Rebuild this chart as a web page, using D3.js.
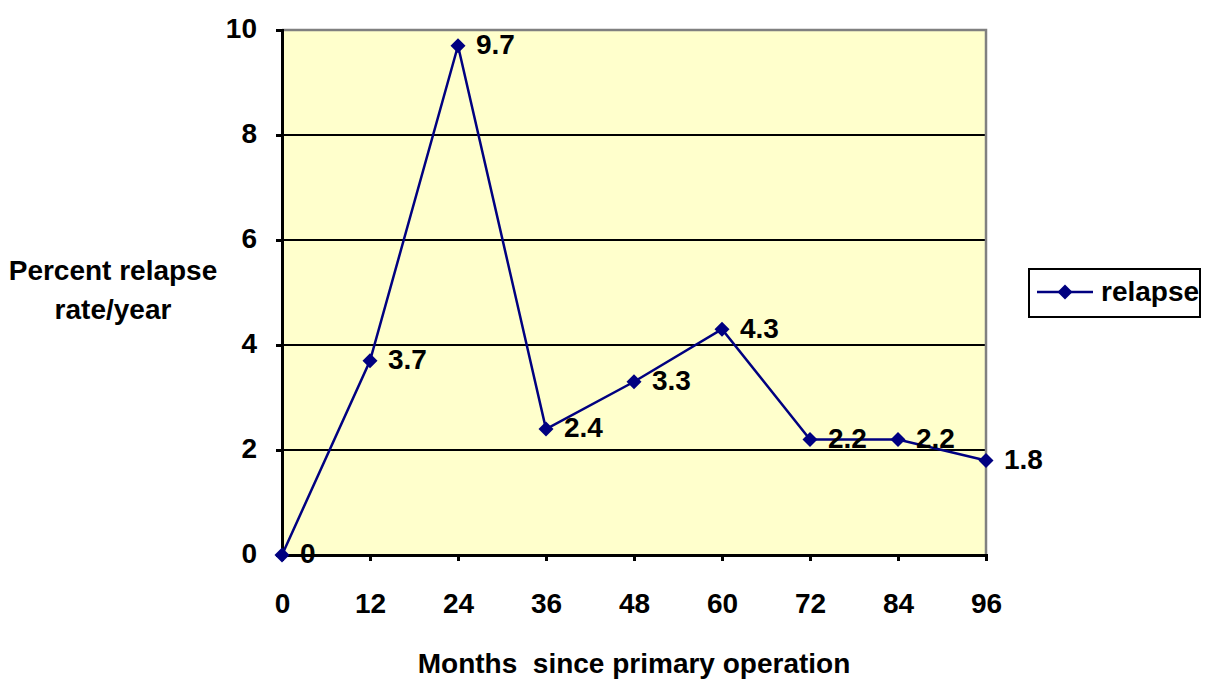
<!DOCTYPE html>
<html>
<head>
<meta charset="utf-8">
<script src="https://cdn.jsdelivr.net/npm/d3@7"></script>
<style>
  body { margin: 0; background: #fff; }
  svg text { font-family: "Liberation Sans", Arial, sans-serif; font-weight: bold; fill: #000; font-size: 28px; }
</style>
</head>
<body>
<svg id="chart" width="1211" height="681"></svg>
<script>
// Relapse rate per year by months since primary operation
const months = [0, 12, 24, 36, 48, 60, 72, 84, 96];
const relapse = [0, 3.7, 9.7, 2.4, 3.3, 4.3, 2.2, 2.2, 1.8];
const yTicks = [0, 2, 4, 6, 8, 10];
const seriesName = "relapse";

const svg = d3.select("#chart");
const plot = { left: 282, right: 986, top: 30, bottom: 555 };

const x = d3.scaleLinear().domain([0, 96]).range([plot.left, plot.right]);
const y = d3.scaleLinear().domain([0, 10]).range([plot.bottom, plot.top]);

// plot background
svg.append("rect")
  .attr("x", plot.left).attr("y", plot.top)
  .attr("width", plot.right - plot.left).attr("height", plot.bottom - plot.top)
  .attr("fill", "#FFFFCC");

// horizontal gridlines
svg.append("g").selectAll("line")
  .data(yTicks.filter(d => d > 0 && d < 10))
  .join("line")
  .attr("x1", plot.left).attr("x2", plot.right)
  .attr("y1", d => y(d)).attr("y2", d => y(d))
  .attr("stroke", "#000").attr("stroke-width", 2);

// grey frame on top and right
svg.append("path")
  .attr("d", `M${plot.left},${plot.top}H${plot.right}V${plot.bottom}`)
  .attr("fill", "none").attr("stroke", "#808080").attr("stroke-width", 2.5);

// y axis
const yAxis = d3.axisLeft(y).tickValues(yTicks).tickSize(6).tickPadding(19).tickFormat(d3.format("d"));
const gy = svg.append("g").attr("transform", `translate(${plot.left},0)`).call(yAxis);
gy.select(".domain").attr("stroke", "#000").attr("stroke-width", 3);
gy.selectAll(".tick line").attr("stroke", "#000").attr("stroke-width", 3);
gy.selectAll(".tick text").attr("font-size", null).attr("font-family", null).attr("dy", "0.28em");

// x axis
const xAxis = d3.axisBottom(x).tickValues(months).tickSize(6).tickPadding(32).tickFormat(d3.format("d"));
const gx = svg.append("g").attr("transform", `translate(0,${plot.bottom})`).call(xAxis);
gx.select(".domain").attr("stroke", "#000").attr("stroke-width", 3);
gx.selectAll(".tick line").attr("stroke", "#000").attr("stroke-width", 3);
gx.selectAll(".tick text").attr("font-size", null).attr("font-family", null);

// series line
const data = months.map((m, i) => ({ m, v: relapse[i] }));
svg.append("path")
  .datum(data)
  .attr("fill", "none")
  .attr("stroke", "#000080")
  .attr("stroke-width", 2.5)
  .attr("d", d3.line().x(d => x(d.m)).y(d => y(d.v)));

// diamond marker shape
const r = 7.5;
const diamond = `M0,${-r}L${r},0L0,${r}L${-r},0Z`;

svg.append("g").selectAll("path")
  .data(data)
  .join("path")
  .attr("transform", d => `translate(${x(d.m)},${y(d.v)})`)
  .attr("d", diamond)
  .attr("fill", "#000080");

// value labels
svg.append("g").selectAll("text")
  .data(data)
  .join("text")
  .attr("x", d => x(d.m) + 18)
  .attr("y", d => y(d.v))
  .attr("dy", "0.3em")
  .text(d => d3.format("")(d.v));

// axis titles
svg.append("text")
  .attr("x", 634).attr("y", 673)
  .attr("text-anchor", "middle")
  .attr("xml:space", "preserve")
  .text("Months  since primary operation");

const yTitle = svg.append("text").attr("text-anchor", "middle");
yTitle.append("tspan").attr("x", 113).attr("y", 280).text("Percent relapse");
yTitle.append("tspan").attr("x", 113).attr("y", 319).text("rate/year");

// legend
const lg = svg.append("g");
lg.append("rect")
  .attr("x", 1029).attr("y", 269).attr("width", 171).attr("height", 48)
  .attr("fill", "#fff").attr("stroke", "#000").attr("stroke-width", 2);
lg.append("line")
  .attr("x1", 1037).attr("x2", 1093).attr("y1", 292).attr("y2", 292)
  .attr("stroke", "#000080").attr("stroke-width", 2.5);
lg.append("path")
  .attr("transform", "translate(1065,292)")
  .attr("d", diamond)
  .attr("fill", "#000080");
lg.append("text")
  .attr("x", 1101).attr("y", 292).attr("dy", "0.33em")
  .text(seriesName);
</script>
</body>
</html>
